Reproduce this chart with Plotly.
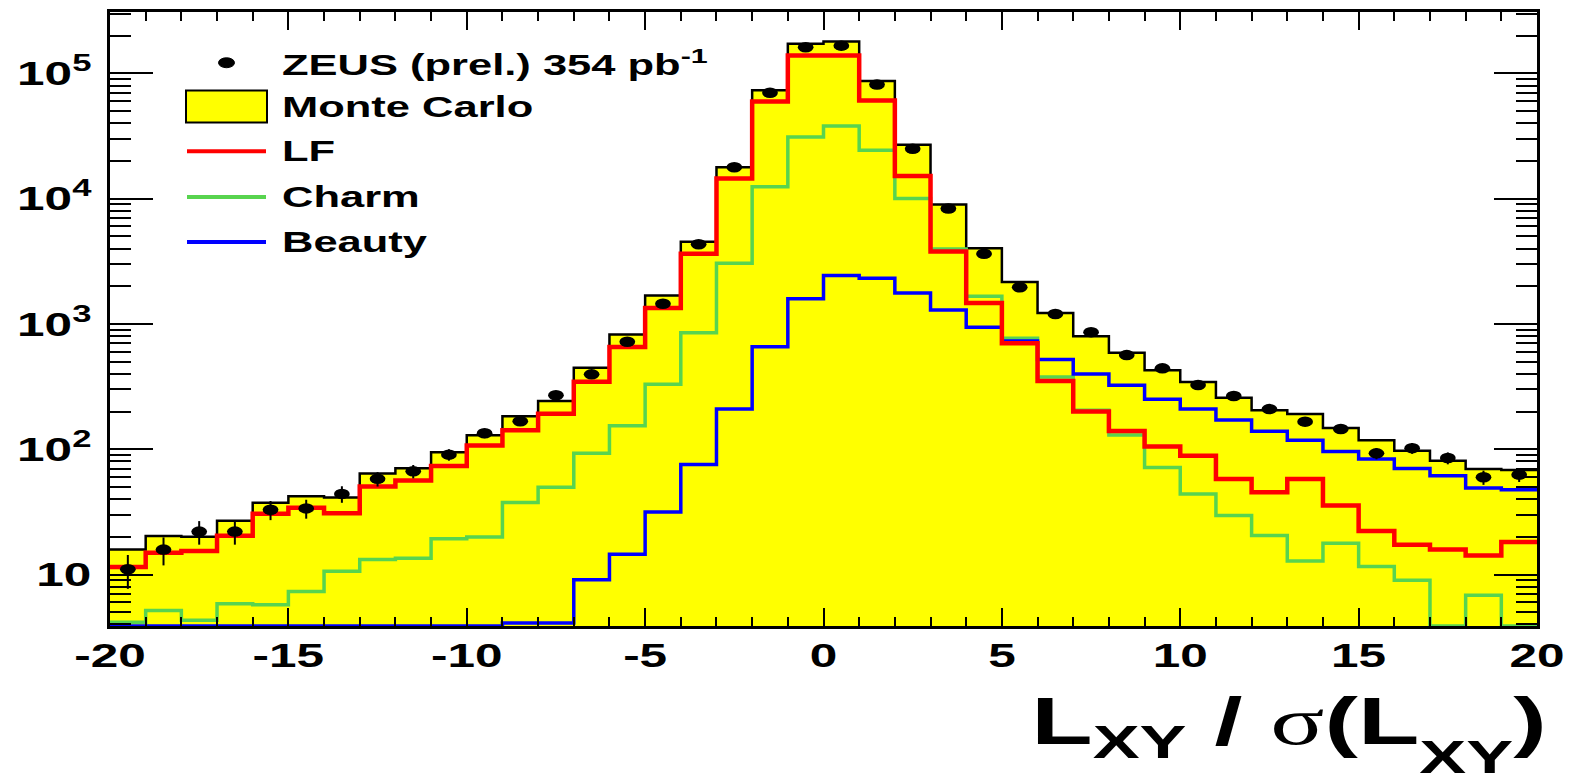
import numpy as np
import plotly.graph_objects as go

# ---------------------------------------------------------------- data
# 40 bins of width 1 in L_XY / sigma(L_XY), from -20 to 20
bin_edges = np.arange(-20, 21, 1)
bin_centres = bin_edges[:-1] + 0.5

data_counts = [11.0, 15.8, 22, 22, 32.9, 33.7, 44, 58, 66.7, 90.5,
               134, 167, 270, 396, 720, 1450, 4320, 17800, 70000, 161500,
               166500, 81500, 25000, 8350, 3630, 1960, 1200, 860, 564, 442,
               326, 266, 209, 166, 145, 92.7, 102, 85, 59.7, 62.7]

mc_total = [15.8, 20.3, 20.0, 26.9, 37.4, 42.2, 41.2, 64, 70.5, 94.5,
            129, 183, 243, 447, 824, 1690, 4540, 17800, 73400, 172700,
            180000, 87100, 27000, 8990, 4020, 2160, 1222, 798, 588, 427,
            344, 258, 205, 191, 147.5, 118, 97.3, 81, 69.6, 68.4]

mc_lf = [11.5, 14.9, 15.4, 20.4, 30.5, 34.1, 30.9, 50.4, 56.2, 73.6,
         107, 142, 192, 346, 656, 1340, 3630, 14500, 59700, 138700,
         138700, 60800, 15200, 3790, 1470, 700, 351, 200, 140, 105,
         88.8, 57.9, 45.4, 57.9, 35.6, 22.2, 17.3, 15.8, 14.2, 18.2]

mc_charm = [4.15, 5.17, 4.31, 5.83, 5.73, 7.32, 10.6, 13.2, 13.5, 19.3,
            19.9, 37.6, 49.8, 92.7, 154, 330, 849, 3055, 12450, 31050,
            38000, 24300, 10040, 3970, 1660, 770, 378, 205, 130, 71.6,
            44, 29.6, 20.5, 12.8, 17.8, 11.6, 9.0, 0, 6.84, 0]

mc_beauty = [0, 0, 0, 0, 0, 0, 0, 0, 0, 0,
             0, 4.1, 4.1, 9.1, 14.5, 31.5, 75.4, 209, 657, 1592,
             2440, 2320, 1765, 1290, 940, 730, 521, 398, 324, 250,
             209, 171, 139, 118, 96, 83.6, 70.3, 61.5, 49.1, 47.4]

x_tick_vals = [-20, -15, -10, -5, 0, 5, 10, 15, 20]
x_tick_text = ["-20", "-15", "-10", "-5", "0", "5", "10", "15", "20"]
y_tick_vals = [10, 1e2, 1e3, 1e4, 1e5]
y_tick_text = ["10", "10<sup>2</sup>", "10<sup>3</sup>", "10<sup>4</sup>", "10<sup>5</sup>"]

legend_labels = ["ZEUS (prel.) 354 pb<sup>-1</sup>", "Monte Carlo", "LF", "Charm", "Beauty"]
x_title = ("L<sub>XY</sub> / "
           "<span style=\"font-family:'Liberation Serif';font-weight:normal\">σ</span>"
           "(L<sub><span style=\"baseline-shift:-0.32em\">XY</span></sub>)")

# ---------------------------------------------------------------- style
W, H = 1576, 782
ML, MR, MT, MB = 110, 39, 9, 156
PW, PH = W - ML - MR, H - MT - MB
Y_LOG_RANGE = [0.589, 5.49]
Y_FLOOR = 10 ** Y_LOG_RANGE[0]

FONT = "Liberation Sans"
YELLOW = "#ffff00"
RED = "#ff0000"
GREEN = "#58d44f"
BLUE = "#0000ff"
GLYPH_STRETCH = 1.5


def px_x(p):
    return (p - ML) / PW


def px_y(p):
    return (H - MB - p) / PH


def step_y(values, clamp=False):
    v = np.asarray(values, dtype=float)
    if clamp:
        v = np.maximum(v, Y_FLOOR)
    return np.append(v, v[-1])


fig = go.Figure()

# Monte Carlo sum: yellow filled histogram with black outline
fig.add_trace(go.Scatter(
    x=bin_edges, y=step_y(mc_total), mode="lines", line_shape="hv",
    line=dict(color="black", width=2.5), fill="tozeroy", fillcolor=YELLOW,
    showlegend=False, hoverinfo="skip"))

# flavour components (empty bins sit on the axis floor)
for vals, col, lw in [(mc_charm, GREEN, 3.5), (mc_beauty, BLUE, 3.5), (mc_lf, RED, 4.5)]:
    fig.add_trace(go.Scatter(
        x=bin_edges, y=step_y(vals, clamp=True), mode="lines", line_shape="hv",
        line=dict(color=col, width=lw), showlegend=False, hoverinfo="skip"))

# data points with statistical errors
fig.add_trace(go.Scatter(
    x=bin_centres, y=data_counts, mode="markers",
    marker=dict(symbol="circle", size=10.5, color="black"),
    error_y=dict(type="data", array=np.sqrt(data_counts), color="black",
                 thickness=2, width=0),
    showlegend=False, hoverinfo="skip"))

minor_y = [m * 10 ** k for k in range(0, 6) for m in range(2, 10)
           if Y_LOG_RANGE[0] <= np.log10(m * 10 ** k) <= Y_LOG_RANGE[1]]

tick_font = dict(family=FONT, size=33, color="black", weight="bold")

fig.update_xaxes(
    range=[-20, 20], tickmode="array", tickvals=x_tick_vals, ticktext=x_tick_text,
    ticks="inside", ticklen=18, tickwidth=2, tickcolor="black",
    minor=dict(dtick=1, ticks="inside", ticklen=9, tickwidth=2, tickcolor="black", showgrid=False),
    showline=True, linewidth=3, linecolor="black", mirror="ticks",
    showgrid=False, zeroline=False, tickfont=tick_font, ticklabelstandoff=-2)

fig.update_yaxes(
    type="log", range=Y_LOG_RANGE, tickmode="array", tickvals=y_tick_vals, ticktext=y_tick_text,
    ticks="inside", ticklen=43, tickwidth=2, tickcolor="black",
    minor=dict(tickmode="array", tickvals=minor_y, ticks="inside", ticklen=21,
               tickwidth=2, tickcolor="black", showgrid=False),
    showline=True, linewidth=3, linecolor="black", mirror="ticks",
    showgrid=False, zeroline=False, tickfont=tick_font, ticklabelstandoff=9)

# ---------------------------------------------------------------- legend
shapes = []
annotations = []
legend_rows = [60, 104, 149, 195, 240]
sym_x0, sym_x1 = 187, 266
shapes.append(dict(type="circle", xref="paper", yref="paper",
                   x0=px_x(226.5 - 8), x1=px_x(226.5 + 8),
                   y0=px_y(legend_rows[0] + 5), y1=px_y(legend_rows[0] - 5),
                   fillcolor="black", line=dict(color="black", width=1)))
shapes.append(dict(type="rect", xref="paper", yref="paper",
                   x0=px_x(186), x1=px_x(267), y0=px_y(120), y1=px_y(88),
                   fillcolor=YELLOW, line=dict(color="black", width=2)))
for row, col in zip(legend_rows[2:], [RED, GREEN, BLUE]):
    shapes.append(dict(type="line", xref="paper", yref="paper",
                       x0=px_x(sym_x0), x1=px_x(sym_x1), y0=px_y(row), y1=px_y(row),
                       line=dict(color=col, width=4)))
for row, label in zip(legend_rows, legend_labels):
    annotations.append(dict(
        text=label, xref="paper", yref="paper", x=px_x(280), y=px_y(row),
        xanchor="left", yanchor="middle", align="left", showarrow=False,
        font=dict(family=FONT, size=29, color="black", weight="bold")))

# axis title
annotations.append(dict(
    text=x_title, xref="paper", yref="paper",
    x=px_x(1549), y=px_y(681), xanchor="right", yanchor="top", align="right",
    showarrow=False, font=dict(family=FONT, size=67, color="black", weight="bold")))

fig.update_layout(
    width=W, height=H, autosize=False,
    margin=dict(l=ML, r=MR, t=MT, b=MB, pad=0),
    paper_bgcolor="white", plot_bgcolor="white",
    font=dict(family=FONT, color="black"),
    shapes=shapes, annotations=annotations, showlegend=False)

# widen glyphs and markers horizontally (wide Helvetica-style lettering)
post_script = """
var gd = document.getElementById('{plot_id}');
var sx = """ + str(GLYPH_STRETCH) + """;
gd.querySelectorAll('text').forEach(function (el) {
  var x = parseFloat(el.getAttribute('x')) || 0;
  var y = parseFloat(el.getAttribute('y')) || 0;
  var t = el.getAttribute('transform') || '';
  el.setAttribute('transform', t + ' translate(' + x + ',' + y + ') scale(' + sx + ',1) translate(' + (-x) + ',' + (-y) + ')');
});
gd.querySelectorAll('path.point').forEach(function (el) {
  var t = el.getAttribute('transform') || '';
  el.setAttribute('transform', t + ' scale(' + sx + ',1)');
});
"""

fig.write_html("out.html", config={"displayModeBar": False}, post_script=post_script)
